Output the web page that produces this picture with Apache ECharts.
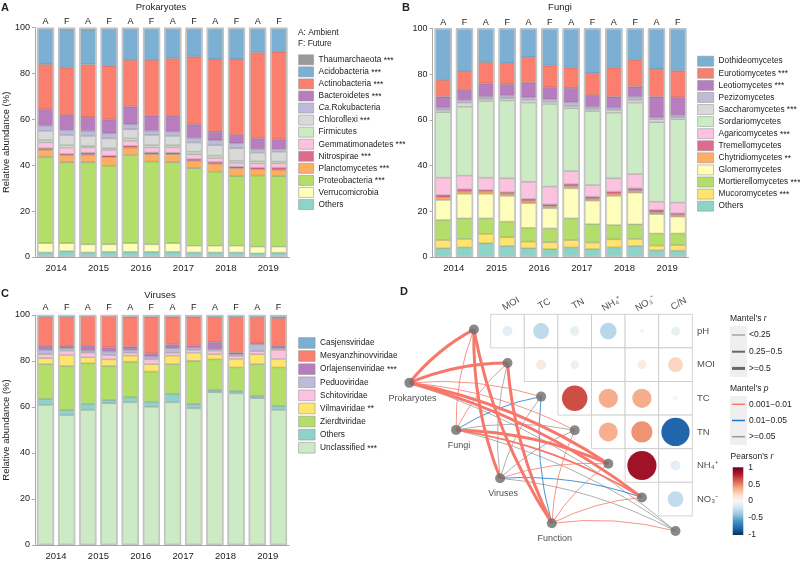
<!DOCTYPE html>
<html>
<head>
<meta charset="utf-8">
<title>Community composition and Mantel tests</title>
<script src="https://cdn.jsdelivr.net/npm/echarts@6/dist/echarts.min.js"></script>
<style>
  html, body { margin: 0; padding: 0; background: #fff; }
  #main { width: 800px; height: 562px; }
</style>
</head>
<body>
<div id="main"></div>
<script>
var FONT = '"Liberation Sans", Arial, sans-serif';
var TXT = '#222';

var years = ['2014', '2015', '2016', '2017', '2018', '2019'];
var treatments = ['A', 'F', 'A', 'F', 'A', 'F', 'A', 'F', 'A', 'F', 'A', 'F'];

// ---- A: prokaryotes, stack order bottom -> top
var proTaxa = ['Others', 'Verrucomicrobia', 'Proteobacteria', 'Planctomycetes', 'Nitrospirae', 'Gemmatimonadetes',
  'Firmicutes', 'Chloroflexi', 'Ca.Rokubacteria', 'Bacteroidetes', 'Actinobacteria', 'Acidobacteria', 'Thaumarchaeota'];
var proStars = ['', '', '***', '***', '***', '***', '', '***', '', '***', '***', '***', '***'];
var proColors = ['#8DD3C7', '#FFFDBA', '#B3DE69', '#FDAE61', '#DD6B8E', '#FBC3DF',
  '#CCEBC5', '#D9D9D9', '#BEBADA', '#B77DBE', '#FA7F6F', '#7BAFD4', '#999999'];
var proValues = [
  [2, 2.6, 2, 2.3, 2.3, 2.3, 2.3, 2, 2, 2, 1.6, 1.9],
  [4, 3.4, 3.5, 3.2, 3.7, 3.2, 3.7, 2.9, 2.9, 2.9, 2.9, 2.6],
  [37.7, 35.3, 35.8, 34.3, 38.5, 36.1, 35.3, 33.8, 32.3, 30.4, 31, 30.8],
  [3, 3.2, 3.3, 3.7, 3.2, 3.2, 3.5, 3.2, 3.4, 3.4, 2.7, 2.7],
  [0.7, 0.5, 0.9, 0.7, 0.8, 0.8, 0.7, 0.8, 0.8, 0.7, 0.8, 1],
  [2.6, 2.7, 2.3, 2.5, 2.2, 2.2, 2.3, 2.1, 1.8, 1.7, 1.8, 1.8],
  [1, 1.1, 0.7, 0.7, 1, 1, 0.9, 1.1, 1, 0.9, 0.9, 0.8],
  [4, 4.4, 4.3, 4.3, 4, 4.4, 4.1, 4, 4.6, 5.4, 3.8, 4.3],
  [2.3, 2.2, 2.2, 2.2, 2.1, 1.9, 1.9, 2.1, 2.1, 2.2, 1.7, 1.2],
  [7.1, 6.5, 6, 6.1, 7.8, 6.5, 6.8, 5.8, 3.5, 3.6, 4.5, 4.2],
  [19.6, 20.7, 23, 23.4, 20.3, 24.3, 25.1, 29.6, 31.8, 33, 37.5, 38.2],
  [15.3, 16.4, 15, 15.9, 13.4, 13.4, 12.7, 11.9, 13.1, 13.1, 10.1, 9.8],
  [0.7, 1, 1, 0.7, 0.7, 0.7, 0.7, 0.7, 0.7, 0.7, 0.7, 0.7]
];

// ---- B: fungi
var funTaxa = ['Others', 'Mucoromycetes', 'Mortierellomycetes', 'Glomeromycetes', 'Chytridiomycetes', 'Tremellomycetes',
  'Agaricomycetes', 'Sordariomycetes', 'Saccharomycetes', 'Pezizomycetes', 'Leotiomycetes', 'Eurotiomycetes', 'Dothideomycetes'];
var funStars = ['', '***', '***', '', '**', '', '***', '', '***', '', '***', '***', ''];
var funColors = ['#8DD3C7', '#FFE46D', '#B3DE69', '#FFFDBA', '#FDAE61', '#DD6B8E',
  '#FBC3DF', '#CCEBC5', '#D9D9D9', '#BEBADA', '#B77DBE', '#FA7F6F', '#7BAFD4'];
var funValues = [
  [3.8, 4.2, 6, 4.8, 3.8, 3.4, 4.2, 3.5, 4.2, 4.8, 2.9, 2.8],
  [3.6, 3.7, 4.1, 3.8, 2.9, 3, 3.2, 2.8, 3.5, 3.1, 2.1, 2.4],
  [8.8, 9, 6.8, 6.9, 6.1, 6.1, 9.5, 8.1, 6.3, 6.4, 5.3, 5.1],
  [8.7, 10.7, 10.7, 11.2, 10.7, 8.8, 13.1, 10.2, 12.7, 13.8, 8.4, 7.3],
  [1.2, 1, 1, 0.9, 1, 0.9, 1, 0.8, 0.9, 0.9, 0.8, 0.8],
  [1, 1, 0.7, 0.7, 0.9, 0.8, 0.9, 1, 1, 1, 1.1, 0.7],
  [7.6, 6, 5.4, 6.1, 7.5, 7.8, 5.7, 5.1, 5.8, 6.3, 3.6, 4.7],
  [28.6, 30.1, 33.5, 34, 34.6, 36.1, 27.4, 32.3, 28.7, 31.2, 34.7, 36.4],
  [1, 1.8, 0.9, 1, 1.2, 1, 1, 0.9, 1.2, 1.2, 1.3, 0.9],
  [1, 1.2, 1, 1.2, 1.1, 1.1, 1.6, 1, 1, 1.4, 0.9, 1],
  [4.8, 4.3, 5.8, 4.9, 6.4, 5.2, 6.2, 5.1, 4.8, 4.4, 9, 7.7],
  [7.3, 8.3, 9.2, 9.2, 11.1, 9.5, 9, 9.5, 12.7, 11.7, 12, 11.7],
  [22.6, 18.7, 14.9, 15.3, 12.7, 16.3, 17.2, 19.7, 17.2, 13.8, 17.9, 18.5]
];

// ---- C: viruses
var virTaxa = ['Unclassified', 'Others', 'Zierdtviridae', 'Vilmaviridae', 'Schitoviridae', 'Peduoviridae',
  'Orlajensenviridae', 'Mesyanzhinovviridae', 'Casjensviridae'];
var virStars = ['***', '', '', '**', '', '', '***', '', ''];
var virColors = ['#CCEBC5', '#8DD3C7', '#B3DE69', '#FFE46D', '#FBC3DF', '#BEBADA', '#B77DBE', '#FA7F6F', '#7BAFD4'];
var virValues = [
  [60.9, 56.5, 58.7, 61.6, 62, 60.1, 62, 59.4, 66.4, 65.9, 63.8, 58.7],
  [2.6, 2.2, 2.6, 1.4, 2.2, 2.2, 3.7, 1.8, 1, 1.1, 1.1, 1.7],
  [15.1, 19.1, 17.7, 14.8, 15.5, 13.1, 12.9, 18.9, 13.3, 10.2, 13.7, 16.8],
  [2.6, 4.8, 2.6, 2.9, 2.6, 3.2, 3.7, 3.5, 2.3, 3.7, 4.3, 3.7],
  [1.8, 1.9, 2, 1.9, 1.3, 2.1, 1.3, 1.2, 1.5, 1.3, 1.4, 3.9],
  [1.8, 1, 0.9, 1.5, 1.2, 1.2, 1.9, 1, 0.7, 0.7, 2.9, 0.7],
  [1.7, 1, 2, 1.8, 1.4, 1.4, 1.7, 0.9, 2.9, 0.7, 0.5, 1],
  [12.5, 12.5, 13.2, 13.8, 13.1, 16, 12.1, 12.6, 10.9, 15.4, 11.3, 12.1],
  [1, 1, 0.3, 0.3, 0.7, 0.7, 0.7, 0.7, 1, 1, 1, 1.4]
];

// ---- D: environmental correlations and Mantel tests
var envVars = ['pH', 'MOI', 'TC', 'TN', 'NH₄⁺', 'NO₃⁻', 'C/N'];
// pearsonR[i] = r of envVars[i] with envVars[i+1 .. 6]
var pearsonR = [
  [-0.1, -0.26, -0.09, -0.28, -0.02, -0.08],
  [0.1, -0.07, 0, 0.08, 0.22],
  [0.65, 0.37, 0.37, 0.02],
  [0.36, 0.45, -0.8],
  [0.85, -0.1],
  [-0.25]
];
var specNames = ['Prokaryotes', 'Fungi', 'Viruses', 'Function'];
var specX = [-2.42, -1.03, 0.28, 1.82];
var specY = [2.04, 3.44, 4.88, 6.22];
// mantel r / p of each group against pH, MOI, TC, TN, NH4, NO3, C/N
var mantelR = [
  [0.55, 0.55, 0.15, 0.15, 0.55, 0.55, 0.15],
  [0.15, 0.15, 0.15, 0.15, 0.55, 0.3, 0.15],
  [0.55, 0.15, 0.15, 0.15, 0.15, 0.15, 0.15],
  [0.55, 0.55, 0.15, 0.15, 0.15, 0.15, 0.15]
];
var mantelP = [
  [0.005, 0.005, 0.005, 0.005, 0.005, 0.005, 0.2],
  [0.005, 0.005, 0.03, 0.2, 0.005, 0.005, 0.2],
  [0.005, 0.2, 0.2, 0.2, 0.005, 0.03, 0.2],
  [0.005, 0.005, 0.03, 0.005, 0.005, 0.005, 0.005]
];
var rBins = ['<0.25', '0.25−0.5', '>=0.5'];
var rWidths = [0.8, 2, 3];
var pBins = ['0.001−0.01', '0.01−0.05', '>=0.05'];
var pColors = ['#F7786B', '#1F78C8', '#9A9A9A'];
var rdbu = ['#053061', '#2166AC', '#4393C3', '#92C5DE', '#D1E5F0', '#F7F7F7',
  '#FDDBC7', '#F4A582', '#D6604D', '#B2182B', '#67001F'];

var chart = echarts.init(document.getElementById('main'));

var grids = [
  {left: 33, top: 27.7, width: 256.5, height: 229.3},
  {left: 432.5, top: 28.3, width: 256, height: 228.7},
  {left: 33, top: 315, width: 256, height: 230},
  {left: 389.9, top: 280.7, width: 336, height: 268.8},   // D
  {left: 732.7, top: 467.3, width: 10.6, height: 67.7}    // colour bar
];
var topMargins = [1.5, 1.5, 3.3];

var xAxes = [], yAxes = [];
[0, 1, 2].forEach(function (g) {
  xAxes.push({
    gridIndex: g, type: 'category', data: treatments, position: 'top',
    axisLine: {show: false}, axisTick: {show: false},
    axisLabel: {fontSize: 9, color: TXT, margin: topMargins[g]}
  });
  xAxes.push({
    gridIndex: g, type: 'category', data: years, position: 'bottom',
    axisLine: {lineStyle: {color: '#aaa'}},
    axisTick: {alignWithLabel: true, length: 3, lineStyle: {color: '#aaa'}},
    axisLabel: {fontSize: 9.5, color: TXT, margin: 6}
  });
  yAxes.push({
    gridIndex: g, type: 'value', min: 0, max: 100, interval: 20,
    name: g === 1 ? '' : 'Relative abundance (%)', nameLocation: 'middle', nameGap: 23,
    nameTextStyle: {fontSize: 9.5, color: TXT},
    axisLine: {show: true, lineStyle: {color: '#aaa'}},
    axisTick: {show: true, length: 3, lineStyle: {color: '#aaa'}},
    axisLabel: {fontSize: 9, color: TXT, margin: 5},
    splitLine: {show: false}
  });
});
xAxes.push({gridIndex: 3, type: 'value', min: -3, max: 7, show: false});
yAxes.push({gridIndex: 3, type: 'value', min: -1, max: 7, inverse: true, show: false});
xAxes.push({gridIndex: 4, type: 'value', min: 0, max: 1, show: false});
yAxes.push({
  gridIndex: 4, type: 'value', min: -1, max: 1, interval: 0.5, position: 'right',
  axisLine: {show: false}, axisTick: {show: false}, splitLine: {show: false},
  axisLabel: {fontSize: 8.5, color: TXT, margin: 5}
});

var series = [];
function addBars(g, taxa, colors, values) {
  taxa.forEach(function (name, k) {
    series.push({
      type: 'bar', name: name, stack: 'st' + g, xAxisIndex: g * 2, yAxisIndex: g,
      data: values[k], barCategoryGap: '20%', silent: true,
      itemStyle: {color: colors[k], borderColor: 'rgba(50,50,50,0.45)', borderWidth: 0.5}
    });
  });
  series.push({
    type: 'bar', name: 'frame' + g, xAxisIndex: g * 2, yAxisIndex: g, z: 3, silent: true,
    data: treatments.map(function () { return 100; }),
    barGap: '-100%', barCategoryGap: '20%',
    itemStyle: {color: 'rgba(0,0,0,0)', borderColor: '#c4c4c4', borderWidth: 1.5}
  });
}
addBars(0, proTaxa, proColors, proValues);
addBars(1, funTaxa, funColors, funValues);
addBars(2, virTaxa, virColors, virValues);

// correlation cells (upper triangle)
var cellData = [];
pearsonR.forEach(function (row, i) {
  row.forEach(function (r, k) { cellData.push([i + k, i, r]); });
});
series.push({
  type: 'custom', xAxisIndex: 6, yAxisIndex: 3, data: cellData, silent: true, z: 1,
  renderItem: function (params, api) {
    var p0 = api.coord([api.value(0), api.value(1)]);
    var p1 = api.coord([api.value(0) + 1, api.value(1) + 1]);
    return {
      type: 'rect',
      shape: {x: Math.min(p0[0], p1[0]), y: Math.min(p0[1], p1[1]),
        width: Math.abs(p1[0] - p0[0]), height: Math.abs(p1[1] - p0[1])},
      style: {fill: '#fff', stroke: '#c8c8c8', lineWidth: 0.8}
    };
  }
});
var circleIdx = series.length;
series.push({
  type: 'custom', xAxisIndex: 6, yAxisIndex: 3, data: cellData, silent: true, z: 2,
  renderItem: function (params, api) {
    var p0 = api.coord([api.value(0), api.value(1)]);
    var p1 = api.coord([api.value(0) + 1, api.value(1) + 1]);
    var cell = Math.abs(p1[0] - p0[0]);
    return {
      type: 'circle',
      shape: {cx: (p0[0] + p1[0]) / 2, cy: (p0[1] + p1[1]) / 2,
        r: Math.sqrt(Math.abs(api.value(2))) * cell * 0.47},
      style: {fill: api.visual('color')}
    };
  }
});

// mantel links
function envPos(k) { return [k - 0.5, k + 0.45]; }
var links = [];
mantelR.forEach(function (row, s) {
  row.forEach(function (r, k) {
    var p = mantelP[s][k];
    var wi = r < 0.25 ? 0 : (r < 0.5 ? 1 : 2);
    var ci = p < 0.01 ? 0 : (p < 0.05 ? 1 : 2);
    links.push({
      order: (2 - ci) * 10 + wi,
      coords: [[specX[s], specY[s]], envPos(k)],
      lineStyle: {width: rWidths[wi], color: pColors[ci], curveness: 0.1, opacity: 1}
    });
  });
});
links.sort(function (a, b) { return a.order - b.order; });
series.push({
  type: 'lines', coordinateSystem: 'cartesian2d', xAxisIndex: 6, yAxisIndex: 3,
  data: links, silent: true, z: 3
});
series.push({
  type: 'scatter', xAxisIndex: 6, yAxisIndex: 3, symbolSize: 10, silent: true, z: 5, clip: false,
  itemStyle: {color: '#6b6b6b'},
  data: envVars.map(function (v, k) { return envPos(k); })
});
series.push({
  type: 'scatter', xAxisIndex: 6, yAxisIndex: 3, symbolSize: 10, silent: true, z: 5, clip: false,
  itemStyle: {color: '#6b6b6b'},
  label: {show: true, position: 'bottom', distance: 6, offset: [3, 0], fontSize: 9, color: TXT,
    formatter: function (p) { return specNames[p.dataIndex]; }},
  data: specNames.map(function (n, s) { return [specX[s], specY[s]]; })
});
series.push({
  type: 'scatter', xAxisIndex: 6, yAxisIndex: 3, symbolSize: 0, silent: true, clip: false,
  label: {show: true, position: 'inside', rotate: 30, fontSize: 9.5, color: TXT,
    formatter: function (p) { return envVars[p.dataIndex + 1]; }},
  data: envVars.slice(1).map(function (v, j) { return [j + 0.6, -0.31]; })
});
series.push({
  type: 'scatter', xAxisIndex: 6, yAxisIndex: 3, symbolSize: 0, silent: true, clip: false,
  label: {show: true, position: 'inside', align: 'left', fontSize: 9.5, color: TXT,
    formatter: function (p) { return envVars[p.dataIndex]; }},
  data: envVars.slice(0, 6).map(function (v, i) { return [6.14, i + 0.5]; })
});
// colour bar
series.push({
  type: 'custom', xAxisIndex: 7, yAxisIndex: 4, data: [[0]], silent: true,
  renderItem: function (params, api) {
    var a = api.coord([0, 1]), b = api.coord([1, -1]);
    return {
      type: 'rect',
      shape: {x: a[0], y: a[1], width: b[0] - a[0], height: b[1] - a[1]},
      style: {fill: new echarts.graphic.LinearGradient(0, 0, 0, 1,
        rdbu.slice().reverse().map(function (c, i) { return {offset: i / (rdbu.length - 1), color: c}; }))}
    };
  }
});

function legendFmt(taxa, stars) {
  return function (name) {
    var k = taxa.indexOf(name);
    var lab = name === 'Ca.Rokubacteria' ? '{i|Ca.}{n|Rokubacteria}' : '{n|' + name + '}';
    return stars[k] ? lab + '{n| }{s|' + stars[k] + '}' : lab;
  };
}
var legRich = {
  n: {fontSize: 8.3, color: TXT, fontFamily: FONT, lineHeight: 11},
  i: {fontSize: 8.3, color: TXT, fontFamily: FONT, fontStyle: 'italic', lineHeight: 11},
  s: {fontSize: 8.5, color: TXT, fontFamily: FONT, lineHeight: 10, padding: [1, 0, 0, 0]}
};
function makeLegend(taxa, stars, left, top, w, h, gap) {
  return {
    data: taxa.slice().reverse(), orient: 'vertical', left: left, top: top,
    itemWidth: w, itemHeight: h, itemGap: gap, icon: 'rect', selectedMode: false,
    padding: 0, formatter: legendFmt(taxa, stars),
    textStyle: {fontSize: 8.3, color: TXT, lineHeight: 11, rich: legRich},
    itemStyle: {borderColor: '#999', borderWidth: 0.6}
  };
}

function txt(x, y, s, size, extra) {
  var st = {text: s, x: x, y: y, fontSize: size, fontFamily: FONT, fill: TXT,
    textAlign: 'left', textVerticalAlign: 'middle'};
  for (var key in (extra || {})) st[key] = extra[key];
  return {type: 'text', silent: true, style: st};
}
var italicRich = {i: {fontStyle: 'italic', fontSize: 8.5, fontFamily: FONT, fill: TXT}};
var graphics = [
  txt(1, 8, 'A', 11, {fontWeight: 'bold'}),
  txt(402, 8, 'B', 11, {fontWeight: 'bold'}),
  txt(1, 294, 'C', 11, {fontWeight: 'bold'}),
  txt(400, 292, 'D', 11, {fontWeight: 'bold'}),
  txt(161, 7.5, 'Prokaryotes', 9.5, {textAlign: 'center'}),
  txt(560, 7.5, 'Fungi', 9.5, {textAlign: 'center'}),
  txt(160, 295, 'Viruses', 9.5, {textAlign: 'center'}),
  txt(298, 33, 'A: Ambient', 8.3),
  txt(298, 44, 'F: Future', 8.3),
  txt(730, 319, "Mantel's {i|r}", 8.5, {rich: italicRich}),
  txt(730, 389, "Mantel's {i|p}", 8.5, {rich: italicRich}),
  txt(730.5, 457, "Pearson's {i|r}", 8.5, {rich: italicRich}),
  {type: 'rect', silent: true, shape: {x: 730, y: 326, width: 17, height: 51}, style: {fill: '#efefef'}},
  {type: 'rect', silent: true, shape: {x: 730, y: 396, width: 17, height: 49}, style: {fill: '#efefef'}}
];
rBins.forEach(function (b, i) {
  var y = 335 + i * 16.7;
  graphics.push({type: 'line', silent: true, shape: {x1: 732, y1: y, x2: 745, y2: y},
    style: {stroke: '#666', lineWidth: rWidths[i]}});
  graphics.push(txt(749, y, b, 8.5));
});
pBins.forEach(function (b, i) {
  var y = 404.3 + i * 16.2;
  graphics.push({type: 'line', silent: true, shape: {x1: 732, y1: y, x2: 745, y2: y},
    style: {stroke: pColors[i], lineWidth: 1.5}});
  graphics.push(txt(749, y, b, 8.5));
});

chart.setOption({
  animation: false,
  textStyle: {fontFamily: FONT},
  grid: grids,
  xAxis: xAxes,
  yAxis: yAxes,
  legend: [
    makeLegend(proTaxa, proStars, 298.3, 54.3, 15, 10, 1.06),
    makeLegend(funTaxa, funStars, 697.3, 55.7, 16, 10, 1.08),
    makeLegend(virTaxa, virStars, 298.3, 337.3, 16.5, 10.7, 1.8)
  ],
  visualMap: {
    show: false, type: 'continuous', seriesIndex: circleIdx, dimension: 2,
    min: -1, max: 1, inRange: {color: rdbu}
  },
  graphic: graphics,
  series: series
});
</script>
</body>
</html>
